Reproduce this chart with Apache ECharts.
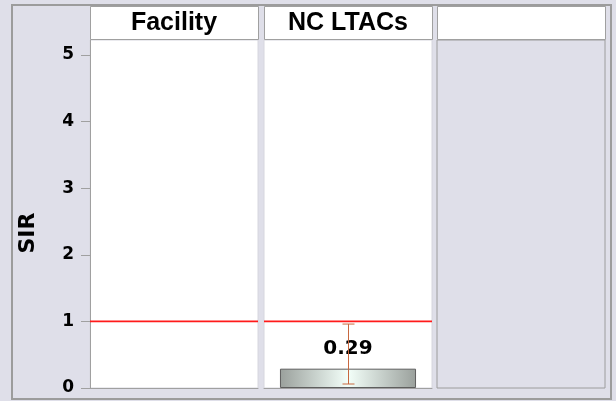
<!DOCTYPE html>
<html lang="en">
<head>
    <meta charset="UTF-8">
    <title>SIR by panel</title>
    <script type="text/javascript" src="https://cdn.jsdelivr.net/npm/echarts@6/dist/echarts.min.js"></script>
    <style>
        html, body { margin: 0; padding: 0; background: #dfdfe9; }
    </style>
</head>
<body>
    <div id="charts" style="width:616px;height:401px;"></div>
</body>
<script type="text/javascript">
    // data
    var panels = ['Facility', 'NC LTACs', ''];
    var sirValues = [null, 0.29, null];
    var ciLower = [null, 0.06, null];
    var ciUpper = [null, 0.96, null];
    var referenceSIR = 1;
    var yTicks = [0, 1, 2, 3, 4, 5];

    // layout
    var panelLeft = [90, 264, 437];
    var panelWidth = 168;
    var plotTop = 40, plotHeight = 348;
    var headTop = 6, headHeight = 33;
    var yMax = 5.225;
    var font = 'DejaVu Sans';
    var headFont = 'Liberation Sans';
    var bg = '#dfdfe9';

    var myChart = echarts.init(document.getElementById('charts'));

    var grids = [], xAxes = [], yAxes = [], series = [], graphics = [];

    // outer frame
    graphics.push({
        type: 'rect', z: -1,
        shape: { x: 12, y: 5, width: 599, height: 394 },
        style: { fill: 'none', stroke: '#9c9c9c', lineWidth: 2 }
    });
    // y axis title
    graphics.push({
        type: 'text', x: 28, y: 233, rotation: Math.PI / 2,
        style: {
            text: 'SIR', align: 'center', verticalAlign: 'middle',
            font: 'bold 22px "' + font + '"', fill: '#000'
        }
    });

    panels.forEach(function (name, i) {
        var empty = (i === 2);
        grids.push({
            left: panelLeft[i], top: plotTop, width: panelWidth, height: plotHeight,
            show: true,
            backgroundColor: empty ? bg : '#ffffff',
            borderColor: empty ? '#9c9c9c' : '#d6d6de',
            borderWidth: 1
        });
        xAxes.push({
            type: 'category', gridIndex: i, data: [name],
            axisLabel: { show: false }, axisTick: { show: false },
            axisLine: { show: !empty, lineStyle: { color: '#a0a0a0' } }
        });
        yAxes.push({
            type: 'value', gridIndex: i, min: 0, max: yMax,
            show: i === 0,
            splitLine: { show: false },
            axisLine: { show: true, lineStyle: { color: '#a0a0a0' } },
            axisTick: { show: true, length: 9, customValues: yTicks, lineStyle: { color: '#a0a0a0' } },
            axisLabel: {
                customValues: yTicks, margin: 16,
                fontFamily: font, fontWeight: 'bold', fontSize: 17, color: '#000'
            }
        });

        // header box
        graphics.push({
            type: 'rect',
            shape: { x: panelLeft[i] + 0.5, y: headTop + 0.5, width: panelWidth, height: headHeight },
            style: { fill: '#ffffff', stroke: '#a0a0a0', lineWidth: 1 }
        });
        graphics.push({
            type: 'text',
            x: panelLeft[i] + panelWidth / 2, y: headTop + headHeight / 2 + 1,
            style: {
                text: name, align: 'center', verticalAlign: 'middle',
                font: 'bold 25px "' + headFont + '"', fill: '#000'
            }
        });

        if (!empty) {
            // reference line across the panel
            series.push({
                type: 'custom', xAxisIndex: i, yAxisIndex: i,
                data: [[0, referenceSIR]],
                renderItem: function (params, api) {
                    var cs = params.coordSys;
                    var y = api.coord([0, api.value(1)])[1];
                    return {
                        type: 'line',
                        shape: { x1: cs.x, y1: y, x2: cs.x + cs.width, y2: y },
                        style: { stroke: '#ff1a1a', lineWidth: 1.6 }
                    };
                },
                z: 1
            });
            // bars
            series.push({
                type: 'bar', xAxisIndex: i, yAxisIndex: i,
                data: [sirValues[i]],
                barWidth: '81%',
                itemStyle: {
                    color: new echarts.graphic.LinearGradient(0, 0, 1, 0, [
                        { offset: 0, color: '#9aa09c' },
                        { offset: 0.5, color: '#f3fff9' },
                        { offset: 1, color: '#9aa09c' }
                    ]),
                    borderColor: '#5e5e5e', borderWidth: 1
                },
                label: {
                    show: true, position: 'top', distance: 10,
                    formatter: function (p) { return p.value.toFixed(2); },
                    fontFamily: font, fontWeight: 'bold', fontSize: 20, color: '#000'
                },
                z: 2
            });
            // error bars
            series.push({
                type: 'custom', xAxisIndex: i, yAxisIndex: i,
                data: ciLower[i] == null ? [] : [[0, ciLower[i], ciUpper[i]]],
                renderItem: function (params, api) {
                    var lo = api.coord([api.value(0), api.value(1)]);
                    var hi = api.coord([api.value(0), api.value(2)]);
                    var x = Math.round(lo[0]) + 0.5, w = 6;
                    var st = { stroke: '#c8683f', lineWidth: 1 };
                    return {
                        type: 'group', children: [
                            { type: 'line', shape: { x1: x, y1: lo[1], x2: x, y2: hi[1] }, style: st },
                            { type: 'line', shape: { x1: x - w, y1: lo[1], x2: x + w, y2: lo[1] }, style: st },
                            { type: 'line', shape: { x1: x - w, y1: hi[1], x2: x + w, y2: hi[1] }, style: st }
                        ]
                    };
                },
                z: 5
            });
        }
    });

    var option = {
        backgroundColor: bg,
        animation: false,
        grid: grids,
        xAxis: xAxes,
        yAxis: yAxes,
        series: series,
        graphic: graphics
    };

    myChart.setOption(option);
</script>
</html>
